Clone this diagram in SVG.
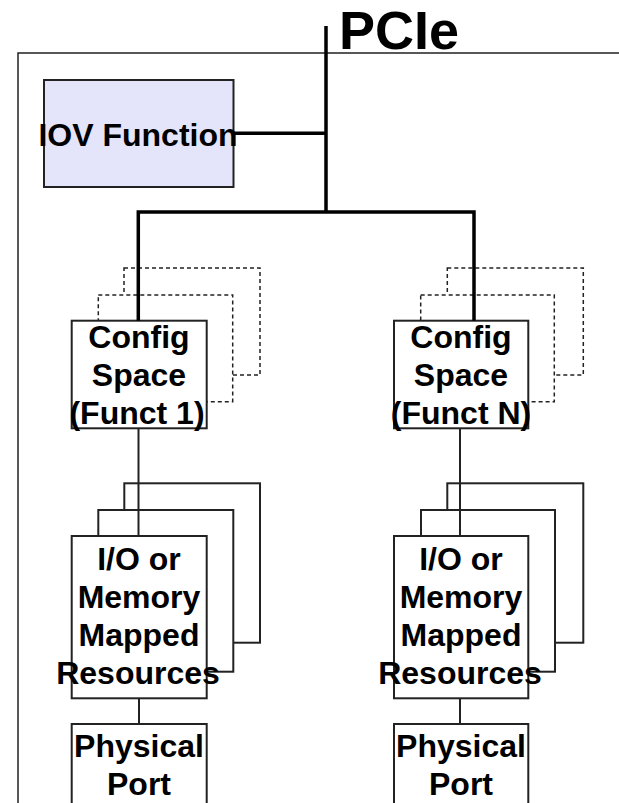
<svg xmlns="http://www.w3.org/2000/svg" width="619" height="803" viewBox="0 0 619 803">
<style>
.t{font-family:"Liberation Sans",Arial,sans-serif;font-weight:bold;font-size:32px;fill:#000;text-anchor:middle}
.box{fill:#fff;stroke:#222;stroke-width:2}
.dash{fill:#fff;stroke:#222;stroke-width:1.5;stroke-dasharray:4 3}
.bus{fill:none;stroke:#000;stroke-width:3.5}
.thin{fill:none;stroke:#222;stroke-width:2}
</style>
<rect width="619" height="803" fill="#fff"/>
<g id="frame"><rect x="18" y="53" width="700" height="800" fill="none" stroke="#222" stroke-width="1.5"/></g>
<g id="pcie"><text x="339" y="49" style="font-family:'Liberation Sans',Arial,sans-serif;font-weight:bold;font-size:54px" fill="#000">PCIe</text></g>
<g id="iov">
<rect x="44" y="80" width="189.5" height="107" fill="#e4e4fa" stroke="#222" stroke-width="2"/>
<text class="t" x="138" y="146">IOV Function</text>
</g>
<g id="config1">
<rect class="dash" x="124" y="268" width="136" height="107"/>
<rect class="dash" x="98.3" y="295" width="134.4" height="106.7"/>
<rect class="box" x="71.7" y="320.7" width="135" height="107.6"/>
<text class="t" x="139" y="348">Config</text>
<text class="t" x="139" y="386">Space</text>
<text class="t" x="137" y="423.5">(Funct 1)</text>
</g>
<g id="configN">
<rect class="dash" x="447.3" y="268" width="136" height="107"/>
<rect class="dash" x="420.7" y="295" width="133.6" height="106.7"/>
<rect class="box" x="394" y="320.7" width="134.3" height="107.6"/>
<text class="t" x="461" y="348">Config</text>
<text class="t" x="461" y="386">Space</text>
<text class="t" x="461" y="423.5">(Funct N)</text>
</g>
<g id="io1">
<rect class="box" x="124.3" y="483.3" width="135.7" height="159.4"/>
<rect class="box" x="98.3" y="510" width="135" height="161.7"/>
<rect class="box" x="71.7" y="536" width="135" height="162.3"/>
<text class="t" x="139" y="570">I/O or</text>
<text class="t" x="139" y="608">Memory</text>
<text class="t" x="139" y="646">Mapped</text>
<text class="t" x="138" y="684">Resources</text>
</g>
<g id="ioN">
<rect class="box" x="447.3" y="483.3" width="136" height="159.4"/>
<rect class="box" x="421" y="510" width="134" height="161.7"/>
<rect class="box" x="394" y="536" width="134.3" height="162.3"/>
<text class="t" x="461" y="570">I/O or</text>
<text class="t" x="461" y="608">Memory</text>
<text class="t" x="461" y="646">Mapped</text>
<text class="t" x="460" y="684">Resources</text>
</g>
<g id="port1">
<rect class="box" x="71.7" y="724" width="135" height="100"/>
<text class="t" x="139" y="757">Physical</text>
<text class="t" x="139" y="795">Port</text>
</g>
<g id="portN">
<rect class="box" x="394" y="724" width="134.3" height="100"/>
<text class="t" x="461" y="757">Physical</text>
<text class="t" x="461" y="795">Port</text>
</g>
<g id="connectors">
<path class="bus" d="M326 26V212M233.5 133.3H326M138.3 320.7V212H474V320.7"/>
<path class="thin" d="M138.5 428.3V536M460 428.3V536M139 698.3V724M460 698.3V724"/>
</g>
</svg>
